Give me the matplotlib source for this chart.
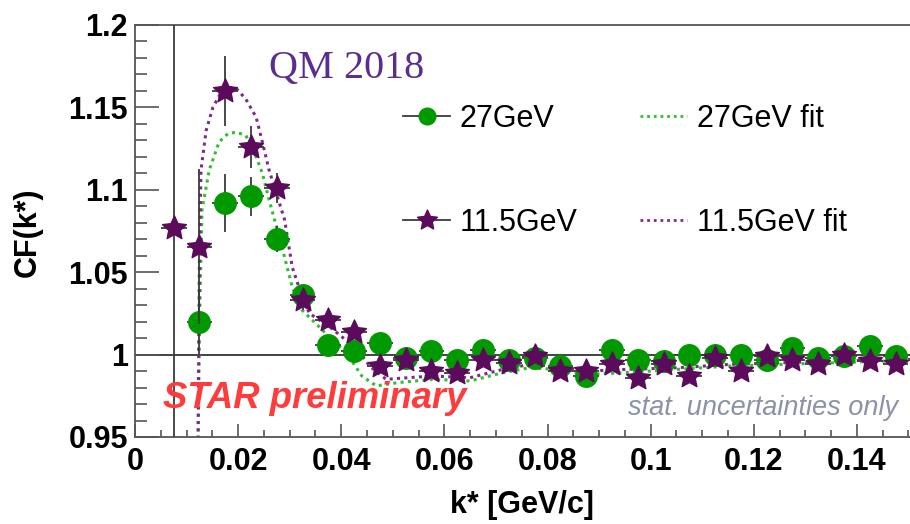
import numpy as np
import matplotlib
matplotlib.use("Agg")
import matplotlib.pyplot as plt
from matplotlib.path import Path
from matplotlib.lines import Line2D
from matplotlib.ticker import MultipleLocator, FuncFormatter

# ---------------- data ----------------
k_27 = [0.0125, 0.0175, 0.0225, 0.0275, 0.0325, 0.0375, 0.0425, 0.0475, 0.0525, 0.0575,
        0.0625, 0.0675, 0.0725, 0.0775, 0.0825, 0.0875, 0.0925, 0.0975, 0.1025, 0.1075,
        0.1125, 0.1175, 0.1225, 0.1275, 0.1325, 0.1375, 0.1425, 0.1475]
cf_27 = [1.020, 1.092, 1.096, 1.070, 1.036, 1.006, 1.002, 1.007, 0.998, 1.002,
         0.997, 1.003, 0.997, 0.998, 0.993, 0.987, 1.003, 0.997, 0.996, 1.000,
         1.000, 1.000, 0.997, 1.004, 0.998, 0.999, 1.005, 0.999]
err_27 = [0.020, 0.0176, 0.012, 0.008, 0.005, 0.004, 0.004, 0.003, 0.003, 0.003,
          0.003, 0.003, 0.003, 0.003, 0.003, 0.003, 0.003, 0.003, 0.003, 0.003,
          0.003, 0.003, 0.003, 0.003, 0.003, 0.003, 0.003, 0.003]

k_115 = [0.0075, 0.0125, 0.0175, 0.0225, 0.0275, 0.0325, 0.0375, 0.0425, 0.0475, 0.0525,
         0.0575, 0.0625, 0.0675, 0.0725, 0.0775, 0.0825, 0.0875, 0.0925, 0.0975, 0.1025,
         0.1075, 0.1125, 0.1175, 0.1225, 0.1275, 0.1325, 0.1375, 0.1425, 0.1475]
cf_115 = [1.077, 1.0655, 1.160, 1.126, 1.101, 1.033, 1.021, 1.014, 0.993, 0.997,
          0.990, 0.989, 0.997, 0.995, 0.999, 0.990, 0.990, 0.994, 0.986, 0.994,
          0.987, 0.998, 0.990, 0.999, 0.997, 0.994, 1.000, 0.996, 0.994]
err_115 = [0.150, 0.047, 0.021, 0.0125, 0.009, 0.006, 0.005, 0.004, 0.004, 0.004,
           0.003, 0.003, 0.003, 0.003, 0.003, 0.003, 0.003, 0.003, 0.003, 0.003,
           0.003, 0.003, 0.003, 0.003, 0.003, 0.003, 0.003, 0.003, 0.003]
bin_half = 0.0025

fit27_k = [0.0121, 0.0125, 0.0130, 0.0144, 0.0163, 0.0180, 0.0196, 0.0215, 0.0235, 0.0247,
           0.0260, 0.0274, 0.0286, 0.0305, 0.0324, 0.0350, 0.0363, 0.0410, 0.0440, 0.0468,
           0.0510, 0.0577, 0.0650, 0.0713, 0.0765, 0.0817, 0.0880, 0.0950, 0.1050, 0.1150,
           0.1250, 0.1350, 0.1450, 0.1510]
fit27_v = [0.900, 1.020, 1.088, 1.112, 1.129, 1.134, 1.135, 1.133, 1.120, 1.110,
           1.094, 1.078, 1.064, 1.041, 1.027, 1.019, 1.015, 1.001, 0.987, 0.981,
           0.983, 0.985, 0.984, 0.989, 0.992, 0.991, 0.988, 0.989, 0.991, 0.993,
           0.994, 0.995, 0.996, 0.996]

fit115_k = [0.0121, 0.0125, 0.0128, 0.0138, 0.0151, 0.0165, 0.0180, 0.0195, 0.0215, 0.0235,
            0.0247, 0.0260, 0.0274, 0.0290, 0.0305, 0.0320, 0.0338, 0.0377, 0.0416, 0.0430,
            0.0455, 0.0487, 0.0530, 0.0577, 0.0650, 0.0713, 0.0765, 0.0817, 0.0880, 0.0950,
            0.1050, 0.1150, 0.1250, 0.1350, 0.1450, 0.1510]
fit115_v = [0.900, 1.060, 1.112, 1.136, 1.150, 1.158, 1.162, 1.162, 1.155, 1.144,
            1.129, 1.112, 1.098, 1.082, 1.053, 1.039, 1.025, 1.017, 1.007, 1.004,
            0.993, 0.985, 0.986, 0.987, 0.986, 0.991, 0.994, 0.993, 0.990, 0.991,
            0.992, 0.994, 0.995, 0.996, 0.997, 0.997]

y_ticks = [0.95, 1.0, 1.05, 1.1, 1.15, 1.2]
x_ticks = [0, 0.02, 0.04, 0.06, 0.08, 0.1, 0.12, 0.14]

# ---------------- style ----------------
GREEN = "#009a00"
PURPLE = "#5c0a5c"
FIT_GREEN = "#2fbf2f"
FIT_PURPLE = "#7d2a85"
ERRC = "#3a3a3a"
FRAME = "#555555"
SANS = "Liberation Sans"

def star_path(inner=0.5):
    verts = []
    for i in range(10):
        r = 1.0 if i % 2 == 0 else inner
        a = np.pi / 2 + i * np.pi / 5
        verts.append((r * np.cos(a), r * np.sin(a)))
    verts.append(verts[0])
    codes = [Path.MOVETO] + [Path.LINETO] * 9 + [Path.CLOSEPOLY]
    return Path(verts, codes)

STAR = star_path(0.48)

fig = plt.figure(figsize=(9.1, 5.24), dpi=100)
W, H = 910, 524
ax = fig.add_axes([135 / W, 87 / H, 775 / W, 412 / H])
ax.set_xlim(0, 0.1503)
ax.set_ylim(0.95, 1.2)

# reference line at 1
ax.axhline(1.0, color="#222222", lw=1.2, zorder=1)

# fits
ax.plot(fit27_k, fit27_v, color=FIT_GREEN, lw=2.2, ls=(0, (1, 1.4)), zorder=2)
ax.plot(fit115_k, fit115_v, color=FIT_PURPLE, lw=2.2, ls=(0, (1, 1.4)), zorder=2)

# data
ax.errorbar(k_27, cf_27, yerr=err_27, xerr=[bin_half] * len(k_27), fmt="o", ms=15.5,
            mfc=GREEN, mec=GREEN, ecolor=ERRC, elinewidth=1.3, capsize=0, zorder=4)
ax.errorbar(k_115, cf_115, yerr=err_115, xerr=[bin_half] * len(k_115), fmt="none",
            ecolor=ERRC, elinewidth=1.3, capsize=0, zorder=5)
ax.plot(k_115, cf_115, ls="none", marker=STAR, ms=18, mfc=PURPLE, mec=PURPLE, zorder=6)

# axes style
for side in ["left", "bottom", "top"]:
    ax.spines[side].set_color(FRAME)
    ax.spines[side].set_linewidth(1.3)
ax.spines["right"].set_visible(False)

ax.yaxis.set_minor_locator(MultipleLocator(0.01))
ax.xaxis.set_minor_locator(MultipleLocator(0.005))
ax.set_yticks(y_ticks)
ax.set_xticks(x_ticks)
fmt = FuncFormatter(lambda v, p: ("%g" % round(v, 4)))
ax.xaxis.set_major_formatter(fmt)
ax.yaxis.set_major_formatter(fmt)

ax.tick_params(axis="y", which="major", direction="in", length=17, width=1.2,
               color=FRAME, labelsize=22, pad=5)
ax.tick_params(axis="y", which="minor", direction="in", length=8.5, width=1.2, color=FRAME)
ax.tick_params(axis="x", which="major", direction="in", length=9.5, width=1.2,
               color=FRAME, labelsize=22, pad=7)
ax.tick_params(axis="x", which="minor", direction="in", length=5, width=1.2, color=FRAME)
for lab in ax.get_xticklabels() + ax.get_yticklabels():
    lab.set_fontfamily(SANS)
    lab.set_fontweight("bold")

# axis titles
fig.text(28 / W, 1 - 232 / H, "CF(k*)", rotation=90, ha="center", va="center",
         fontsize=22, fontweight="bold", family=SANS)
fig.text(522 / W, 1 - 505 / H, "k* [GeV/c]", ha="center", va="center",
         fontsize=22, fontweight="bold", family=SANS)

# legend
h27 = Line2D([], [], color=ERRC, lw=1.3, marker="o", ms=12, mfc=GREEN, mec=GREEN)
h115 = Line2D([], [], color=ERRC, lw=1.3, marker=STAR, ms=15, mfc=PURPLE, mec=PURPLE)
hf27 = Line2D([], [], color=FIT_GREEN, lw=2, ls=(0, (1, 1.4)))
hf115 = Line2D([], [], color=FIT_PURPLE, lw=2, ls=(0, (1, 1.4)))
leg = ax.legend([h27, h115, hf27, hf115], ["27GeV", "11.5GeV", "27GeV fit", "11.5GeV fit"],
                ncol=2, loc="upper left", bbox_to_anchor=(403 / W, 1 - 104 / H),
                bbox_transform=fig.transFigure, frameon=False,
                prop={"family": SANS, "size": 22}, handlelength=1.55, handletextpad=0.3,
                columnspacing=2.05, labelspacing=2.42, borderpad=0, borderaxespad=0)

# annotations
fig.text(347 / W, 1 - 78 / H, "QM 2018", ha="center", va="baseline", fontsize=29,
         family="Liberation Serif", color="#5b2d90")
fig.text(163 / W, 1 - 408 / H, "STAR preliminary", ha="left", va="baseline", fontsize=26.3,
         family=SANS, fontweight="bold", style="italic", color="#ff3b3b")
fig.text(628 / W, 1 - 415 / H, "stat. uncertainties only", ha="left", va="baseline",
         fontsize=19.5, family=SANS, style="italic", color="#8793a6")

fig.savefig("out.png", dpi=100)
